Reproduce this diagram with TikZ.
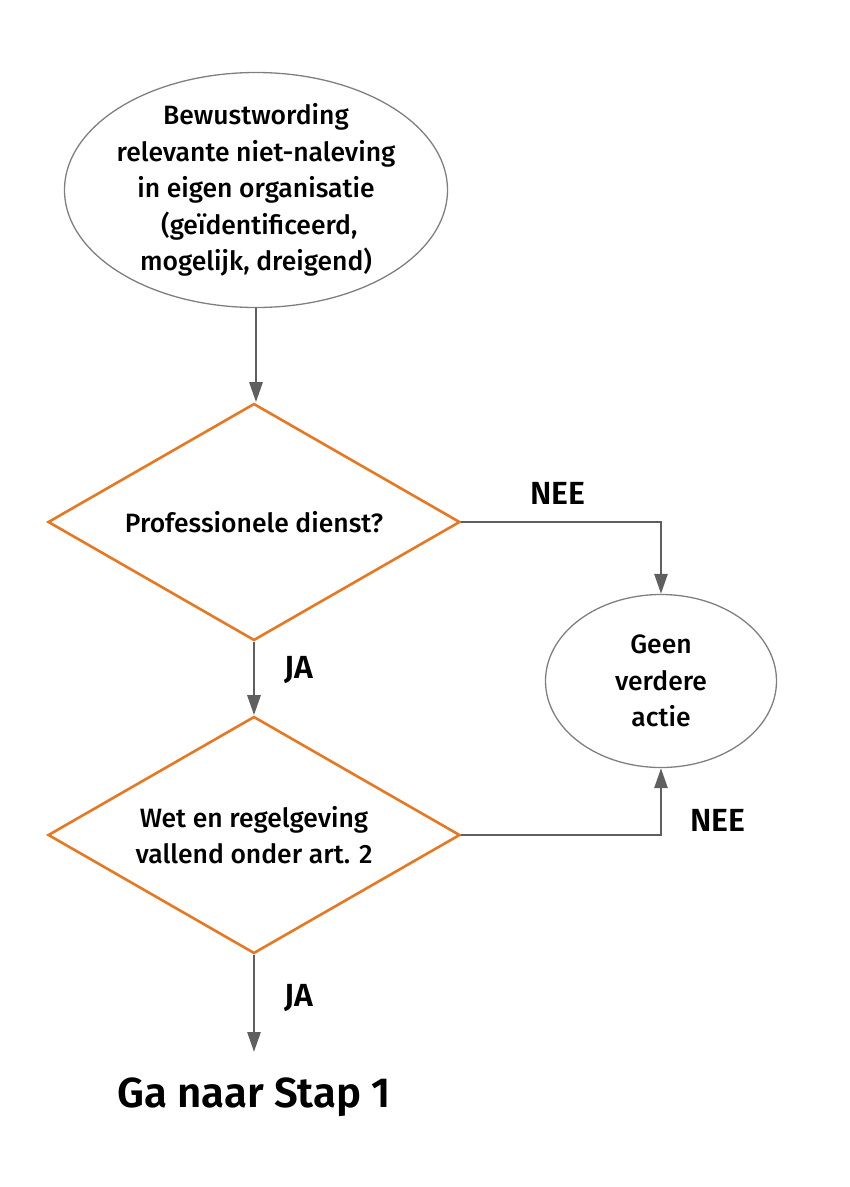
\documentclass[tikz,border=0pt]{standalone}
\usepackage{fontspec}
\setmainfont{Fira Sans}[UprightFont=* Medium, BoldFont=* SemiBold]
\usetikzlibrary{shapes.geometric,arrows.meta}
\definecolor{orng}{HTML}{E87722}
\definecolor{gry}{HTML}{5F5F5F}
\begin{document}
\begin{tikzpicture}[x=1pt,y=-1pt,
  oval/.style={ellipse,draw=gry!80,line width=1.3pt,inner sep=-10pt,align=center,font=\fontsize{26.5}{36.5}\selectfont},
  dec/.style={diamond,draw=orng,line width=2.6pt,inner sep=0pt,aspect=1.74,align=center,font=\fontsize{26.5}{36}\selectfont},
  conn/.style={draw=gry,line width=2.8pt,-{Triangle[length=20pt,width=13pt]}},
  lbl/.style={font=\bfseries\fontsize{32}{36}\selectfont}]
\useasboundingbox (0,0) rectangle (850,1187);
\node[oval,minimum width=383pt,minimum height=235pt] (start) at (256,190) {Bewustwording\\relevante niet-naleving\\in eigen organisatie\\\ (geïdentificeerd,\\mogelijk, dreigend)};
\node[dec,minimum width=412pt,minimum height=237pt] (d1) at (254,522) {Professionele dienst?};
\node[dec,minimum width=412pt,minimum height=237pt] (d2) at (254,835) {Wet en regelgeving\\vallend onder art. 2};
\node[oval,minimum width=231pt,minimum height=173pt] (stop) at (661,681) {Geen\\verdere\\actie};
\node[font=\bfseries\fontsize{42}{46}\selectfont] (goto) at (254,1097) {Ga naar Stap 1};
\coordinate (gotop) at (254,1052);
\draw[conn] (start) -- (start|-d1.north);
\draw[conn] (d1.east) -| (stop.north);
\draw[conn] (d1.south) -- (d2.north);
\draw[conn] (d2.east) -| (stop.south);
\draw[conn] (d2.south) -- (gotop);
\node[lbl] (nee1) at (558,493) {NEE};
\node[lbl] (nee2) at (718,820) {NEE};
\node[lbl] (ja1) at (299,670) {JA};
\node[lbl] (ja2) at (299,998) {JA};
\end{tikzpicture}
\end{document}
